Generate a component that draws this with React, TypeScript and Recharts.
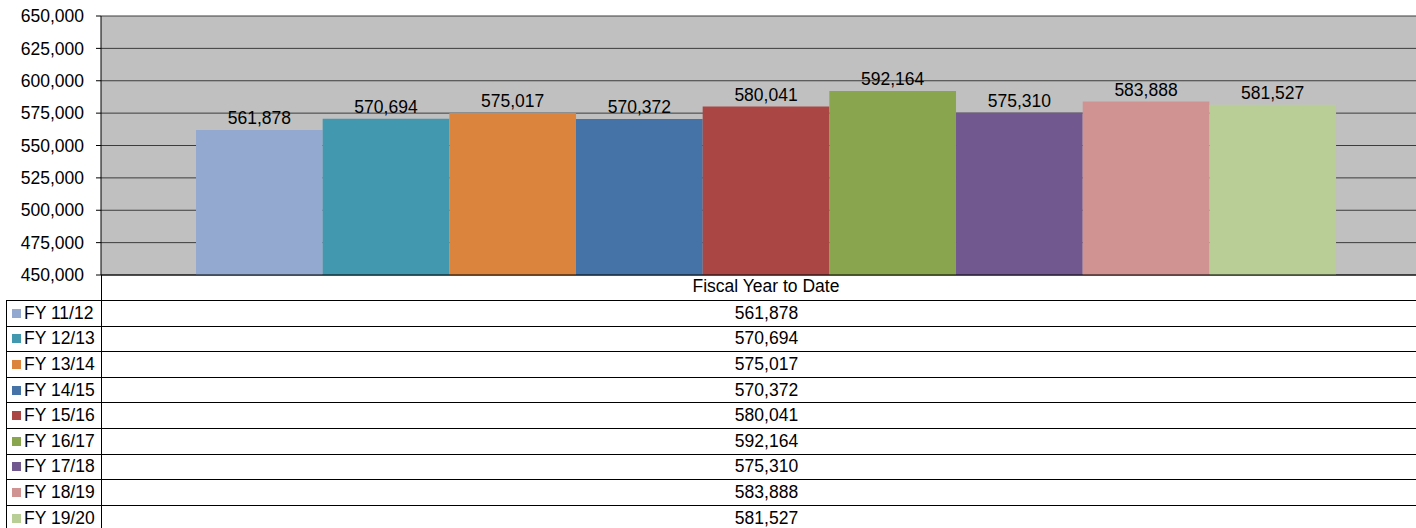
import React from 'react';
import { BarChart, Bar, XAxis, YAxis, CartesianGrid, LabelList } from 'recharts';

const categories = ['Fiscal Year to Date'];
const seriesNames = ['FY 11/12', 'FY 12/13', 'FY 13/14', 'FY 14/15', 'FY 15/16', 'FY 16/17', 'FY 17/18', 'FY 18/19', 'FY 19/20'];
const seriesValues = [561878, 570694, 575017, 570372, 580041, 592164, 575310, 583888, 581527];
const seriesColors = ['#93A9CF', '#4198AF', '#DB843D', '#4572A7', '#AA4643', '#89A54E', '#71588F', '#D19392', '#B9CD96'];
const yTicks = [450000, 475000, 500000, 525000, 550000, 575000, 600000, 625000, 650000];

const fmt = (v: number) => v.toLocaleString('en-US');

const data = categories.map((c) => {
  const row: Record<string, string | number> = { category: c };
  seriesNames.forEach((_, i) => {
    row['s' + i] = seriesValues[i];
  });
  return row;
});

const FONT = '"Liberation Sans", Arial, sans-serif';
const FS = 17.5;
const ROW_H = 25.6;

export default function App() {
  return (
    <div
      style={{
        position: 'absolute',
        left: 0,
        top: 0,
        width: 1416,
        height: 528,
        overflow: 'hidden',
        background: '#fff',
        fontFamily: FONT,
      }}
    >
      <BarChart
        width={1431}
        height={300}
        data={data}
        margin={{ top: 16, right: 0, left: 0, bottom: 0 }}
        barSize={126.67}
        barGap={0}
      >
        <CartesianGrid fill="#C0C0C0" stroke="#3C3C3C" vertical={false} horizontal={true} />
        <XAxis
          dataKey="category"
          height={25}
          tickLine={false}
          tickSize={3}
          tickMargin={2}
          axisLine={{ stroke: '#000' }}
          tick={{ fill: '#000', fontSize: FS, fontFamily: FONT }}
        />
        <YAxis
          width={101}
          domain={[450000, 650000]}
          ticks={yTicks}
          interval={0}
          tickSize={5}
          tickMargin={12}
          tickFormatter={fmt}
          axisLine={{ stroke: '#000' }}
          tickLine={{ stroke: '#000' }}
          tick={{ fill: '#000', fontSize: FS, fontFamily: FONT }}
          allowDataOverflow
        />
        {seriesNames.map((name, i) => (
          <Bar key={name} dataKey={'s' + i} name={name} fill={seriesColors[i]} isAnimationActive={false}>
            <LabelList
              dataKey={'s' + i}
              position="top"
              offset={6}
              formatter={(v: any) => fmt(Number(v))}
              style={{ fill: '#000', fontSize: FS, fontFamily: FONT }}
            />
          </Bar>
        ))}
      </BarChart>
      <div style={{ position: 'absolute', left: 101, top: 275, width: 0, height: 25, borderLeft: '1px solid #000' }} />
      <div style={{ position: 'absolute', left: 0, top: 300, width: 1431 }}>
        {seriesNames.map((name, i) => (
          <div
            key={name}
            style={{
              position: 'absolute',
              top: i * ROW_H,
              left: 0,
              width: 1431,
              height: ROW_H,
              boxSizing: 'border-box',
            }}
          >
            <div
              style={{
                position: 'absolute',
                left: 6,
                top: 0,
                width: 95,
                height: ROW_H,
                boxSizing: 'border-box',
                borderLeft: '1px solid #000',
                borderTop: '1px solid #000',
                display: 'flex',
                alignItems: 'center',
                fontSize: FS,
                color: '#000',
                whiteSpace: 'nowrap',
              }}
            >
              <span style={{ display: 'inline-block', width: 9, height: 9, background: seriesColors[i], marginLeft: 5, marginRight: 3 }} />
              <span>{name}</span>
            </div>
            <div
              style={{
                position: 'absolute',
                left: 101,
                top: 0,
                width: 1330,
                height: ROW_H,
                boxSizing: 'border-box',
                borderLeft: '1px solid #000',
                borderTop: '1px solid #000',
                display: 'flex',
                alignItems: 'center',
                justifyContent: 'center',
                fontSize: FS,
                color: '#000',
              }}
            >
              {fmt(seriesValues[i])}
            </div>
          </div>
        ))}
      </div>
    </div>
  );
}
